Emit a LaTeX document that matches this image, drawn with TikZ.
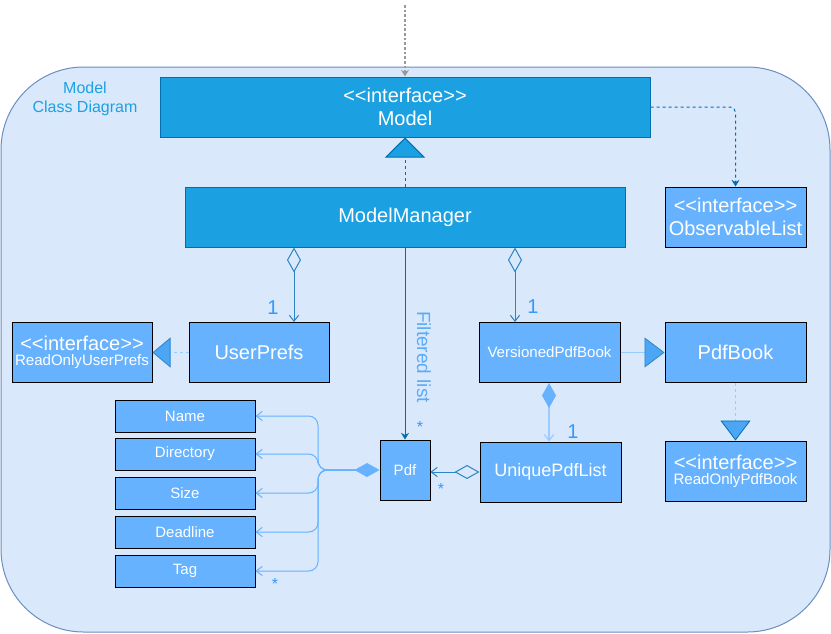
\documentclass[tikz,border=0pt]{standalone}
\usepackage{fontspec}
\setmainfont{Liberation Sans}
\usetikzlibrary{arrows.meta}
\definecolor{frameFill}{HTML}{DAE8FC}
\definecolor{frameLine}{HTML}{6C8EBF}
\definecolor{darkFill}{HTML}{1BA1E2}
\definecolor{darkLine}{HTML}{006EAF}
\definecolor{midLine}{HTML}{2A85C6}
\definecolor{lightFill}{HTML}{66B2FF}
\definecolor{paleLine}{HTML}{99CCFF}
\definecolor{triFill}{HTML}{4DA6F5}
\definecolor{labelBlue}{HTML}{1BA1E2}
\definecolor{numBlue}{HTML}{3399FF}
\definecolor{flBlue}{HTML}{5AACFA}
\newcommand\ifc{<\kern0pt<interface>\kern0pt>}
\begin{document}
\begin{tikzpicture}[x=0.75pt,y=-0.75pt,
  dbox/.style={draw=darkLine, fill=darkFill, text=white, inner sep=0pt,
    minimum height=45pt, align=center, line width=0.75pt},
  lbox/.style={draw=black, fill=lightFill, text=white, inner sep=0pt,
    minimum width=105.75pt, minimum height=45pt, align=center, line width=0.75pt},
  abox/.style={lbox, minimum width=105pt, minimum height=24pt,
    font=\fontsize{11.25}{13}\selectfont},
  big/.style={font=\fontsize{15}{17.5}\selectfont},
  mult/.style={text=numBlue, inner sep=0pt, font=\fontsize{15}{17}\selectfont},
  star/.style={text=numBlue, inner sep=0pt, font=\fontsize{12}{14}\selectfont},
  openhead/.style={-{Straight Barb[length=4.5pt,width=7pt]}},
  aggr/.style={midLine, line width=0.75pt,
    {Diamond[open,length=18.75pt,width=10.5pt]}-{Straight Barb[length=4.5pt,width=7pt]}},
  realize/.style={line width=0.75pt,
    -{Triangle[length=15pt,width=30pt,color=darkLine,fill=darkFill]}},
]
\useasboundingbox (0,0) rectangle (831,633);

% frame
\draw[frameLine, fill=frameFill, line width=0.75pt, rounded corners=62pt]
  (1,67) rectangle (830,632);
\node[text=labelBlue, align=center, font=\fontsize{12}{14.25}\selectfont]
  (title) at (85,99) {Model\\Class Diagram};

% nodes
\node[dbox, minimum width=367.5pt, big] (model) at (405,107) {\ifc\\Model};
\node[dbox, minimum width=330pt, big] (mm) at (405,217) {ModelManager};
\node[lbox, big] (ol) at (735.5,217) {\ifc\\ObservableList};
\node[lbox, minimum width=105pt, font=\fontsize{15}{17}\selectfont] (up) at (259,352.5) {UserPrefs};
\node[lbox, minimum width=105pt, align=center] (rup) at (82,352.5)
  {{\fontsize{15}{16}\selectfont\ifc}\\[-1pt]{\fontsize{11.3}{12}\selectfont ReadOnlyUserPrefs}};
\node[lbox, font=\fontsize{11.3}{12}\selectfont] (vpb) at (549.5,352.5) {VersionedPdfBook};
\node[lbox, font=\fontsize{15}{17}\selectfont] (pb) at (735.5,352.5) {PdfBook};
\node[lbox, minimum width=37.5pt, font=\fontsize{11.25}{13}\selectfont] (pdf) at (405,470) {Pdf};
\node[lbox, font=\fontsize{13.5}{16}\selectfont] (upl) at (550.5,472) {UniquePdfList};
\node[lbox, align=center] (ropb) at (735.5,471)
  {{\fontsize{15}{16}\selectfont\ifc}\\[-1pt]{\fontsize{11.3}{12}\selectfont ReadOnlyPdfBook}};

\node[abox] (name) at (185,416) {Name};
\node[abox] (dir) at (185,454) {Directory};
\node[abox] (size) at (185,493) {Size};
\node[abox] (dead) at (185,532) {Deadline};
\node[abox] (tag) at (185,571) {Tag};

% helper coordinates
\coordinate (top) at (405,5);
\coordinate (ax1) at (294,0);
\coordinate (ax2) at (515,0);
\coordinate (ax3) at (549,0);
\coordinate (jx) at (355,0);
\coordinate (bx) at (318,0);

% connectors
\draw[gray!80, line width=0.9pt, dash pattern=on 2pt off 1.5pt,
  -{Stealth[length=5pt,width=6pt]}] (top) -- (model.north);
\draw[darkLine, dash pattern=on 2.25pt off 2.25pt, realize] (mm.north) -- (model.south);
\draw[darkLine, line width=0.75pt, dash pattern=on 2.25pt off 2.25pt, rounded corners=4pt,
  -{Stealth[length=5pt,width=6pt]}] (model.east) -| (ol.north);

\draw[aggr] (mm.south -| ax1) -- (up.north -| ax1);
\draw[aggr] (mm.south -| ax2) -- (vpb.north -| ax2);
\draw[darkLine, line width=0.75pt, -{Stealth[length=5pt,width=6pt]}] (mm.south) -- (pdf.north);

\draw[paleLine, dash pattern=on 2.25pt off 2.25pt, line width=0.9pt,
  -{Triangle[length=13.5pt,width=22.5pt,color=midLine,fill=triFill,line width=0.6pt]}]
  (up.west) -- (rup.east);
\draw[paleLine, line width=0.9pt,
  -{Triangle[length=15pt,width=22.5pt,color=midLine,fill=triFill,line width=0.6pt]}]
  (vpb.east) -- (pb.west);
\draw[paleLine, dash pattern=on 2.25pt off 2.25pt, line width=0.9pt,
  -{Triangle[length=15pt,width=22.5pt,color=darkLine,fill=triFill,line width=0.6pt]}]
  (pb.south) -- (ropb.north);

\draw[paleLine, line width=0.9pt,
  {Diamond[color=lightFill,fill=lightFill,length=18.75pt,width=10.5pt]}-{Straight Barb[length=4.5pt,width=7pt]}]
  (vpb.south -| ax3) -- (upl.north -| ax3);
\draw[midLine, line width=0.75pt,
  {Diamond[open,length=18.75pt,width=10.5pt]}-{Straight Barb[length=4.5pt,width=7pt]}]
  (upl.west) -- (pdf.east |- upl.west);

\draw[lightFill, line width=0.9pt,
  {Diamond[fill=lightFill,length=18.75pt,width=10.5pt]}-] (pdf.west) -- (pdf.west -| jx);
\foreach \a in {name,dir,size,dead,tag}{
  \draw[lightFill, line width=0.75pt, rounded corners=7pt, openhead]
    (pdf.west -| jx) -- (pdf.west -| bx) |- (\a.east);
}

% labels
\node[rotate=-90, text=flBlue, inner sep=0pt,
  font=\fontsize{14.25}{16}\selectfont] (fl) at (424,357) {Filtered list};
\node[mult] (m1) at (273,308) {1};
\node[mult] (m2) at (533,307) {1};
\node[mult] (m3) at (573,432) {1};
\node[star] (s1) at (420,427) {*};
\node[star] (s2) at (441,489) {*};
\node[star] (s3) at (275,584) {*};
\end{tikzpicture}
\end{document}
